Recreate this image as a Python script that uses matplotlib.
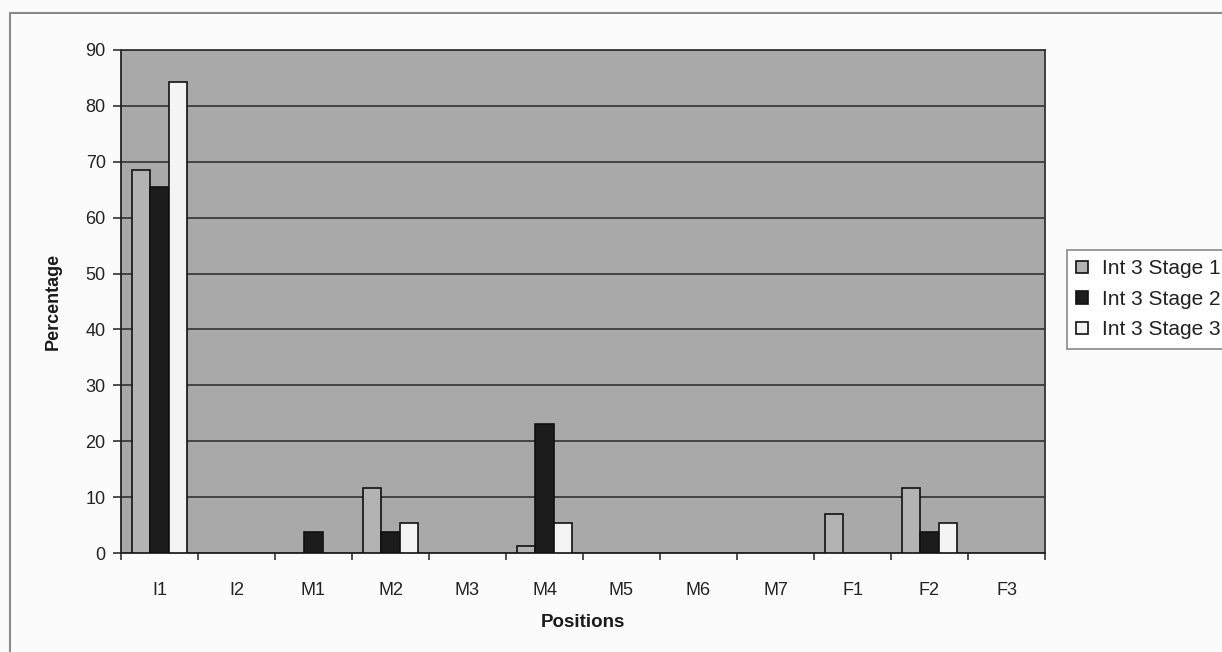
import matplotlib.pyplot as plt
import numpy as np
from matplotlib.patches import Rectangle

plt.rcParams['font.family'] = ['Liberation Sans', 'DejaVu Sans']

positions = ['I1', 'I2', 'M1', 'M2', 'M3', 'M4', 'M5', 'M6', 'M7', 'F1', 'F2', 'F3']
stage1 = [68.6, 0, 0, 11.6, 0, 1.2, 0, 0, 0, 7.0, 11.6, 0]
stage2 = [65.4, 0, 3.8, 3.8, 0, 23.1, 0, 0, 0, 0, 3.8, 0]
stage3 = [84.2, 0, 0, 5.3, 0, 5.3, 0, 0, 0, 0, 5.3, 0]
series_names = ['Int 3 Stage 1', 'Int 3 Stage 2', 'Int 3 Stage 3']
colors = ['#b3b3b3', '#1c1c1c', '#f4f4f4']

fig = plt.figure(figsize=(12.22, 6.52), dpi=100, facecolor='#fbfbfb')
ax = fig.add_axes([121 / 1222, 99 / 652, 924 / 1222, 503 / 652])
ax.set_facecolor('#a9a9a9')

# outer chart frame
fig.add_artist(Rectangle((10 / 1222, -0.2), 2, 1.2 - 13 / 652, transform=fig.transFigure,
                         fill=False, edgecolor='#8a8a8a', linewidth=1.5))

x = np.arange(len(positions))
width = 0.24
bars = []
for i, (vals, c) in enumerate(zip([stage1, stage2, stage3], colors)):
    b = ax.bar(x + (i - 1) * width, vals, width, color=c, edgecolor='#111111',
               linewidth=1.2, zorder=3, label=series_names[i])
    # empty categories draw nothing
    for patch, v in zip(b.patches, vals):
        if v == 0:
            patch.set_visible(False)
    bars.append(b)

ax.set_xlim(-0.5, len(positions) - 0.5)
ax.set_ylim(0, 90)
ax.set_yticks(np.arange(0, 91, 10))
ax.yaxis.grid(True, color='#333333', linewidth=1.2, zorder=1)
ax.set_axisbelow(True)

# category labels centred, ticks on category boundaries
ax.set_xticks(x)
ax.set_xticklabels(positions, fontsize=13, color='#222222')
ax.set_xticks(np.arange(-0.5, len(positions)), minor=True)
ax.tick_params(axis='x', which='major', length=0, pad=21)
ax.tick_params(axis='x', which='minor', length=5, width=1.2, direction='out', color='#333333')
ax.tick_params(axis='y', length=6, width=1.2, direction='out', pad=5,
               labelsize=13, labelcolor='#222222', color='#333333')

for side in ['left', 'bottom']:
    ax.spines[side].set_color('#222222')
    ax.spines[side].set_linewidth(1.3)
for side in ['top', 'right']:
    ax.spines[side].set_color('#333333')
    ax.spines[side].set_linewidth(1.3)

ax.set_xlabel('Positions', fontsize=13.5, fontweight='bold', color='#1a1a1a')
ax.xaxis.set_label_coords(0.5, -0.121)
ax.set_ylabel('Percentage', fontsize=13, fontweight='bold', color='#1a1a1a')
ax.yaxis.set_label_coords(-0.064, 0.5)

leg = fig.legend(handles=bars, labels=series_names, loc='upper left',
                 bbox_to_anchor=(1067 / 1222, 1 - 250 / 652), fontsize=15,
                 frameon=True, fancybox=False, edgecolor='#777777', facecolor='white',
                 handlelength=0.55, handleheight=0.55, handletextpad=0.7,
                 labelspacing=0.55, borderpad=0.45, borderaxespad=0)
leg.get_frame().set_linewidth(1.3)
for t in leg.get_texts():
    t.set_color('#222222')

fig.savefig('out.png', dpi=100, facecolor=fig.get_facecolor())
